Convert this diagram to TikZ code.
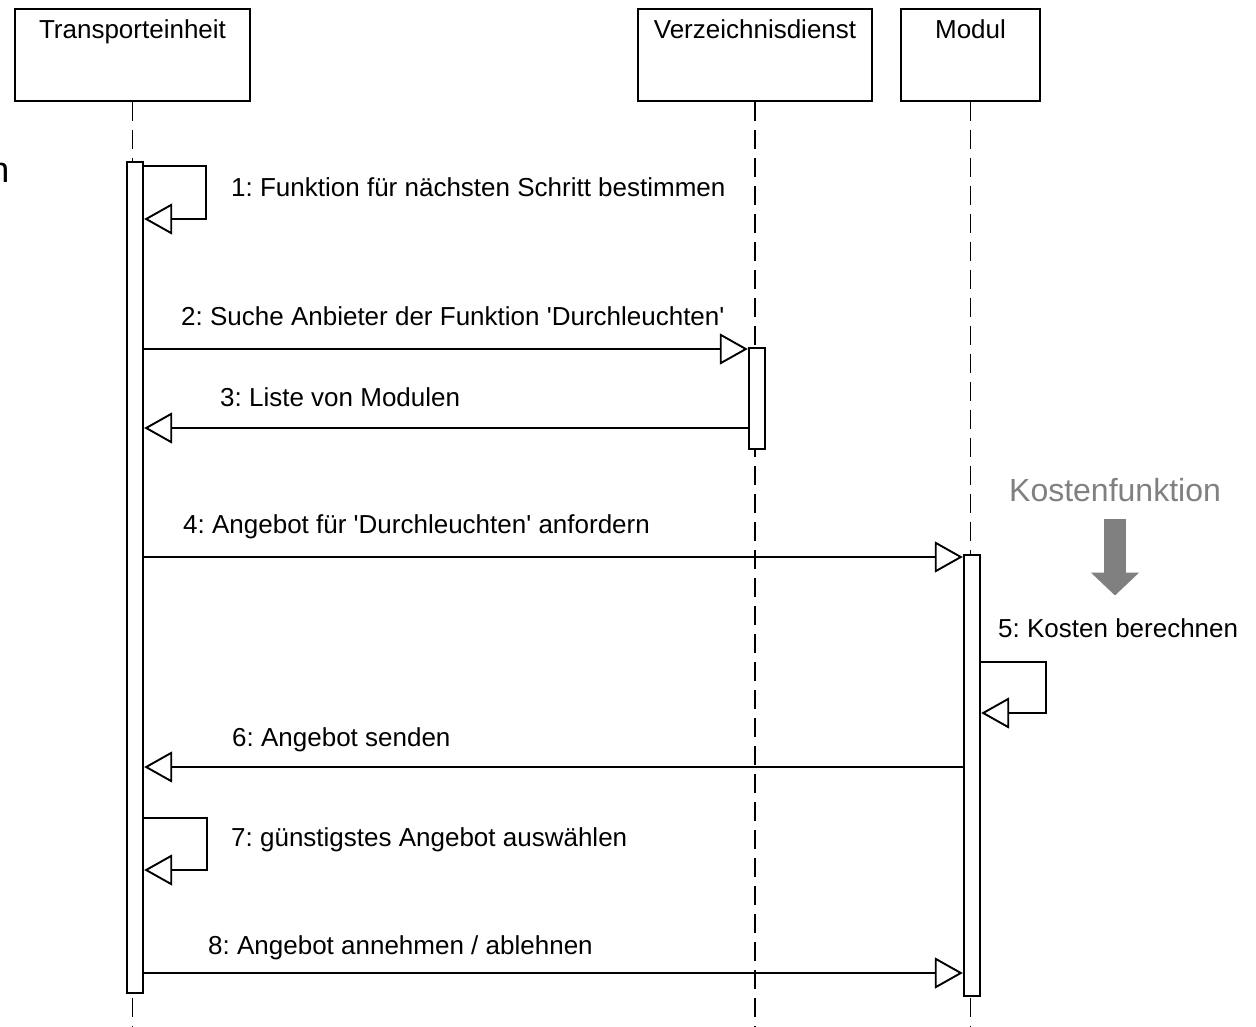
\documentclass[tikz,border=0pt]{standalone}
\usepackage{fontspec}
\setmainfont{Liberation Sans}
\usetikzlibrary{arrows.meta, calc, positioning}

\definecolor{kostengrau}{RGB}{128,128,128}

\tikzset{
	headbox/.style={draw, line width=1.9pt, minimum height=92pt},
	lifeline/.style={line width=1.9pt, dash pattern=on 19pt off 9pt},
	actbar/.style={draw, fill=white, line width=1.9pt, minimum width=16.5pt},
	msg/.style={line width=1.9pt, -{Triangle[length=28pt, width=31pt, fill=white, line width=1.9pt]}},
	msglabel/.style={anchor=base west},
}

\begin{document}
\frenchspacing
\begin{tikzpicture}[x=1pt, y=-1pt, line cap=butt,
	every node/.style={font=\fontsize{26}{30}\selectfont, inner sep=0pt}]

\useasboundingbox (0,0) rectangle (1256,1026);

%Coordinates
\coordinate (bottom) at (0,1026);
\coordinate (m1a) at (0,166);
\coordinate (m1b) at (0,219);
\coordinate (m2) at (0,349);
\coordinate (m3) at (0,428);
\coordinate (m4) at (0,557);
\coordinate (m5a) at (0,662);
\coordinate (m5b) at (0,713);
\coordinate (m6) at (0,767);
\coordinate (m7a) at (0,818);
\coordinate (m7b) at (0,870);
\coordinate (m8) at (0,973);

% Heads
\node[headbox, minimum width=235pt] (TE) at (132.5,55) {};
\node[headbox, minimum width=234pt] (VD) at (755,55) {};
\node[headbox, minimum width=139pt] (MO) at (970.5,55) {};

\node[anchor=base] at ($(TE.north)+(0,30)$) {Transporteinheit};
\node[anchor=base] at ($(VD.north)+(0,30)$) {Verzeichnisdienst};
\node[anchor=base] at ($(MO.north)+(0,30)$) {Modul};

% Lifelines
\draw[lifeline] (TE.south) -- (TE.south |- bottom);
\draw[lifeline] (VD.south) -- (VD.south |- bottom);
\draw[lifeline] (MO.south) -- (MO.south |- bottom);

% Activation bars
\node[actbar, minimum height=831pt] (aTE) at (135,577.5) {};
\node[actbar, minimum height=101pt] (aVD) at (757,398.5) {};
\node[actbar, minimum height=441pt] (aMO) at (972,775.5) {};

% Messages
\draw[msg] (aTE.east |- m1a) -- ++(62,0) |- (aTE.east |- m1b);
\draw[msg] (aTE.east |- m2) -- (aVD.west |- m2);
\draw[msg] (aVD.west |- m3) -- (aTE.east |- m3);
\draw[msg] (aTE.east |- m4) -- (aMO.west |- m4);
\draw[msg] (aMO.east |- m5a) -- ++(65,0) |- (aMO.east |- m5b);
\draw[msg] (aMO.west |- m6) -- (aTE.east |- m6);
\draw[msg] (aTE.east |- m7a) -- ++(63,0) |- (aTE.east |- m7b);
\draw[msg] (aTE.east |- m8) -- (aMO.west |- m8);

% Labels
\node[msglabel] (l1) at (231,196) {1: Funktion für nächsten Schritt bestimmen};
\node[msglabel] (l2) at (181,325) {2: Suche Anbieter der Funktion \textquotesingle Durchleuchten\textquotesingle};
\node[msglabel] (l3) at (220,406) {3: Liste von Modulen};
\node[msglabel] (l4) at (183,533) {4: Angebot für \textquotesingle Durchleuchten\textquotesingle{} anfordern};
\node[msglabel] (l5) at (998,637) {5: Kosten berechnen};
\node[msglabel] (l6) at (232,746) {6: Angebot senden};
\node[msglabel] (l7) at (231,846) {7: günstigstes Angebot auswählen};
\node[msglabel] (l8) at (208,954) {8: Angebot annehmen / ablehnen};

% Kostenfunktion
\node[anchor=base, text=kostengrau, font=\fontsize{32}{36}\selectfont] (kosten) at (1115,501) {Kostenfunktion};
\draw[kostengrau, line width=22pt, -{Triangle[length=23pt, width=47pt]}]
	([yshift=-17pt]kosten.south) -- ++(0,77);

% cut text at the left edge
\node[anchor=base east, font=\fontsize{36}{40}\selectfont] (cut) at (9.5,182) {n};

\end{tikzpicture}
\end{document}
